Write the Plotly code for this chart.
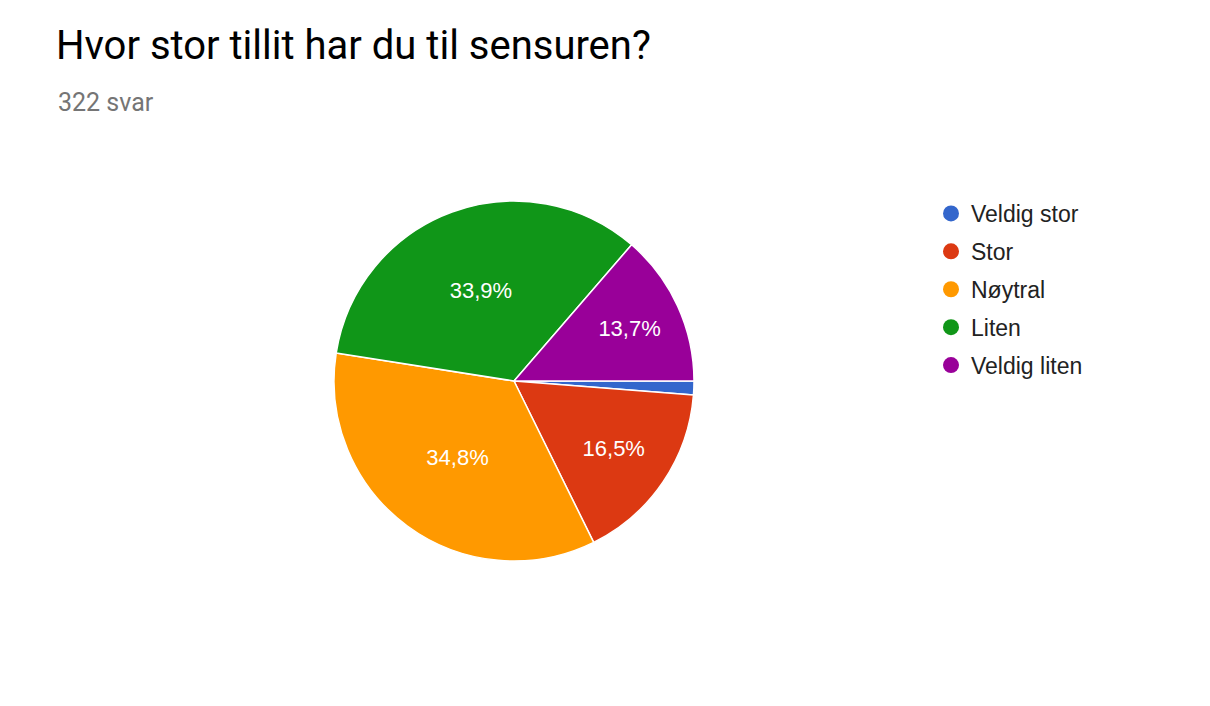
import plotly.graph_objects as go

title = "Hvor stor tillit har du til sensuren?"
subtitle = "322 svar"
categories = ["Veldig stor", "Stor", "Nøytral", "Liten", "Veldig liten"]
counts = [4, 53, 112, 109, 44]
colors = ["#3366cc", "#dc3912", "#ff9900", "#109618", "#990099"]
show_label = [False, True, True, True, True]

W, H = 1210, 706
OFF = 8  # page offset of the figure div


def px(x):
    return (x - OFF) / W


def py(y):
    return 1 - (y - OFF) / H


fig = go.Figure()
fig.add_trace(go.Pie(
    labels=categories,
    values=counts,
    sort=False,
    direction="clockwise",
    rotation=90,
    marker=dict(colors=colors, line=dict(color="white", width=1.5)),
    texttemplate=["%{percent:.1%}" if s else "" for s in show_label],
    textposition="inside",
    insidetextorientation="horizontal",
    insidetextfont=dict(color="white", size=22, family="Liberation Sans, Arial"),
    hoverinfo="label+value+percent",
    showlegend=False,
    domain=dict(x=[px(334), px(694)], y=[py(561), py(201)]),
))

for i, (c, col) in enumerate(zip(categories, colors)):
    fig.add_trace(go.Scatter(
        x=[None], y=[None], mode="markers", name=c,
        marker=dict(color=col, size=22, symbol="circle"),
        legendgroup=f"g{i}", showlegend=True, hoverinfo="skip",
    ))

fig.update_layout(
    width=W, height=H,
    margin=dict(l=0, r=0, t=0, b=0),
    paper_bgcolor="white", plot_bgcolor="white",
    separators=",.",
    title=dict(text=title, x=px(56), xanchor="left", y=py(45), yanchor="middle",
               font=dict(family="Roboto", size=40, color="#000000")),
    annotations=[dict(text=subtitle, x=px(56), y=py(103), xref="paper", yref="paper",
                      xanchor="left", yanchor="middle", showarrow=False,
                      font=dict(family="Roboto", size=25, color="#757575"))],
    legend=dict(x=px(931), y=py(192), xanchor="left", yanchor="top",
                font=dict(family="Liberation Sans, Arial", size=23, color="#222222"),
                tracegroupgap=5, bgcolor="rgba(0,0,0,0)"),
    xaxis=dict(visible=False), yaxis=dict(visible=False),
)

fig.write_html("out.html")
